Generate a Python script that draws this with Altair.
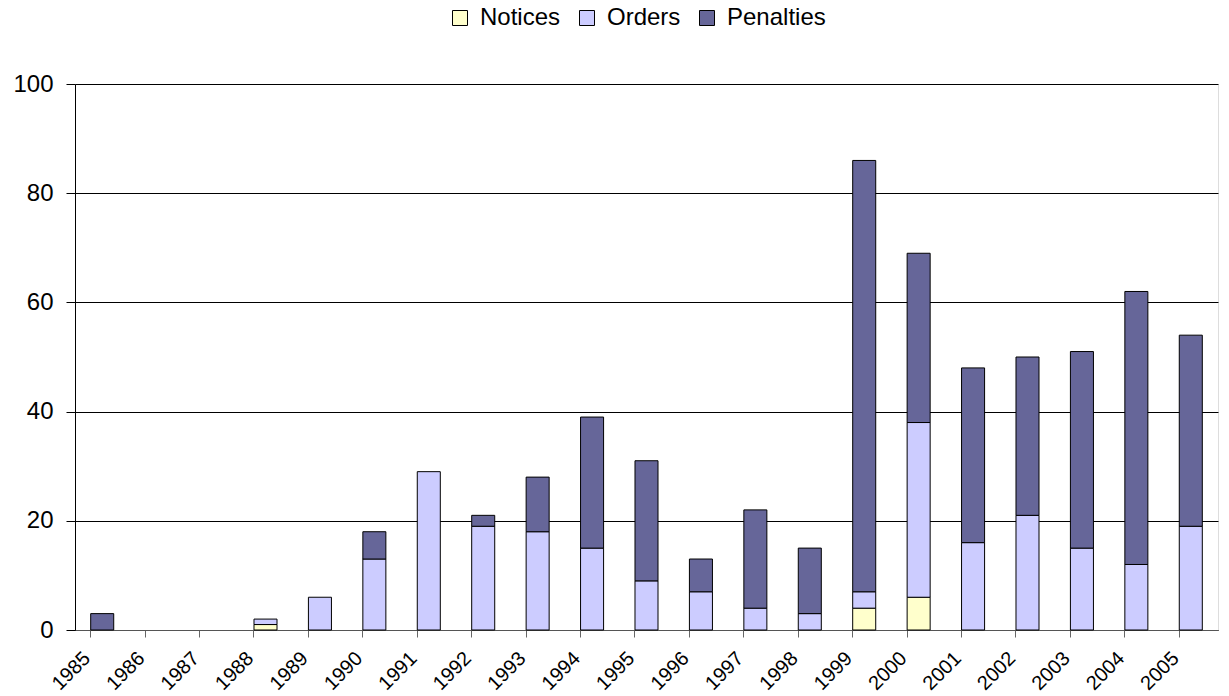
import altair as alt
import pandas as pd

# Yearly enforcement actions, stacked by type
years = ["1985", "1986", "1987", "1988", "1989", "1990", "1991", "1992", "1993", "1994",
         "1995", "1996", "1997", "1998", "1999", "2000", "2001", "2002", "2003", "2004", "2005"]
notices = [0, 0, 0, 1, 0, 0, 0, 0, 0, 0, 0, 0, 0, 0, 4, 6, 0, 0, 0, 0, 0]
orders = [0, 0, 0, 1, 6, 13, 29, 19, 18, 15, 9, 7, 4, 3, 3, 32, 16, 21, 15, 12, 19]
penalties = [3, 0, 0, 0, 0, 5, 0, 2, 10, 24, 22, 6, 18, 12, 79, 31, 32, 29, 36, 50, 35]

series = ["Notices", "Orders", "Penalties"]
colors = ["#FFFFCC", "#CCCCFF", "#666699"]

rows = []
for i, y in enumerate(years):
    for k, (name, vals) in enumerate(zip(series, [notices, orders, penalties])):
        rows.append({"year": y, "type": name, "count": vals[i], "rank": k})
df = pd.DataFrame(rows)

FONT = "Liberation Sans"

chart = (
    alt.Chart(df)
    .transform_filter(alt.datum.count > 0)
    .mark_bar(stroke="#000000", strokeWidth=1)
    .encode(
        x=alt.X(
            "year:N",
            sort=years,
            scale=alt.Scale(domain=years, paddingInner=0.577, paddingOuter=0.2885),
            axis=alt.Axis(
                title=None,
                bandPosition=0,
                labelAngle=-45,
                labelAlign="right",
                labelBaseline="middle",
                labelOffset=-15,
                labelPadding=18,
                labelFontSize=20,
                labelFont=FONT,
                labelColor="#000000",
                tickSize=7,
                tickColor="#666666",
                domainColor="#555555",
                grid=False,
            ),
        ),
        y=alt.Y(
            "count:Q",
            stack="zero",
            scale=alt.Scale(domain=[0, 100], nice=False),
            axis=alt.Axis(
                title=None,
                values=[0, 20, 40, 60, 80, 100],
                labelFontSize=24,
                labelFont=FONT,
                labelColor="#000000",
                labelPadding=13,
                tickSize=9,
                tickColor="#000000",
                domainColor="#000000",
                grid=True,
                gridColor="#000000",
                gridWidth=1,
            ),
        ),
        color=alt.Color(
            "type:N",
            scale=alt.Scale(domain=series, range=colors),
            legend=alt.Legend(
                title=None,
                orient="none",
                direction="horizontal",
                legendX=373,
                legendY=-78,
                symbolType="square",
                symbolSize=225,
                symbolStrokeColor="#000000",
                symbolStrokeWidth=1,
                symbolOpacity=1,
                labelFontSize=24,
                labelFont=FONT,
                labelColor="#000000",
                labelOffset=8,
                columnPadding=14,
            ),
        ),
        order=alt.Order("rank:Q", sort="ascending"),
    )
    .properties(
        width=1143,
        height=546,
        autosize=alt.AutoSizeParams(type="none"),
        padding={"left": 75, "top": 84, "right": 11, "bottom": 66},
    )
    .configure_view(stroke=None)
    .configure(background="#FFFFFF")
)

chart.save("out.html", embed_options={"renderer": "svg", "actions": False})
